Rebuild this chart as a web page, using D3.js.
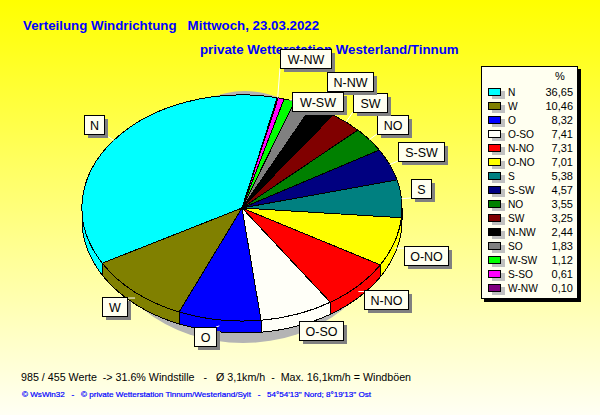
<!DOCTYPE html>
<html>
<head>
<meta charset="utf-8">
<script src="https://cdn.jsdelivr.net/npm/d3@7"></script>
<style>
html, body { margin: 0; padding: 0; background: #fff; }
svg { display: block; }
text { font-family: "Liberation Sans", Arial, sans-serif; }
</style>
</head>
<body>
<div id="chart"></div>
<script>
const directions = ["N", "W", "O", "O-SO", "N-NO", "O-NO", "S", "S-SW", "NO", "SW", "N-NW", "SO", "W-SW", "S-SO", "W-NW"];
const percents = [36.65, 10.46, 8.32, 7.41, 7.31, 7.01, 5.38, 4.57, 3.55, 3.25, 2.44, 1.83, 1.12, 0.61, 0.10];
const percentLabels = ["36,65", "10,46", "8,32", "7,41", "7,31", "7,01", "5,38", "4,57", "3,55", "3,25", "2,44", "1,83", "1,12", "0,61", "0,10"];
const sliceColors = ["#00ffff", "#808000", "#0000ff", "#fffff8", "#ff0000", "#ffff00", "#008080", "#000080", "#008000", "#800000", "#000000", "#808080", "#00ff00", "#ff00ff", "#800080"];

// label boxes [x, y, w], same order as directions
const labelBoxes = [[84, 115, 20], [102, 297, 25], [194, 327, 22], [299, 321, 44], [364, 290, 44], [404, 246, 44], [411, 179, 20], [398, 142, 46], [377, 115, 31], [353, 93, 34], [327, 72, 46], [0, 0, 0], [292, 92, 51], [0, 0, 0], [280, 49, 51]];

const width = 600, height = 415;
const cx = 242, cy = 208, rx = 160, ry = 113, depth = 12;
const startDeg = 12.7;
const boxFill = "#fffff0";

const svg = d3.select("#chart").append("svg")
    .attr("width", width)
    .attr("height", height);

// background
const grad = svg.append("defs").append("linearGradient")
    .attr("id", "bg").attr("x1", 0).attr("y1", 0).attr("x2", 0).attr("y2", 1);
grad.append("stop").attr("offset", "0%").attr("stop-color", "#ffff00");
grad.append("stop").attr("offset", "100%").attr("stop-color", "#fffff4");
svg.append("rect").attr("width", width).attr("height", height).attr("fill", "url(#bg)");

// titles
svg.append("text").attr("x", 23).attr("y", 30)
    .attr("font-size", 13.3).attr("font-weight", "bold").attr("fill", "#0000ff")
    .style("white-space", "pre")
    .text("Verteilung Windrichtung   Mittwoch, 23.03.2022");
svg.append("text").attr("x", 200).attr("y", 54)
    .attr("font-size", 13.3).attr("font-weight", "bold").attr("fill", "#0000ff")
    .text("private Wetterstation Westerland/Tinnum");

// footer
svg.append("text").attr("x", 21).attr("y", 381)
    .attr("font-size", 10.7).attr("fill", "#000")
    .style("white-space", "pre")
    .text("985 / 455 Werte  -> 31.6% Windstille   -   Ø 3,1km/h  -  Max. 16,1km/h = Windböen");
svg.append("text").attr("x", 22).attr("y", 397)
    .attr("font-size", 8.1).attr("fill", "#0000ff")
    .attr("stroke", "#0000ff").attr("stroke-width", 0.2)
    .style("white-space", "pre")
    .text("© WsWin32   -   © private Wetterstation Tinnum/Westerland/Sylt   -   54°54'13\" Nord; 8°19'13\" Ost");

// pie layout, runs counterclockwise from startDeg
const toRad = Math.PI / 180;
const pie = d3.pie().sort(null).value(d => d)
    .startAngle(startDeg * toRad)
    .endAngle((startDeg - 360) * toRad);
const slices = pie(percents);
const arc = d3.arc().innerRadius(0).outerRadius(1);
const px = a => Math.sin(a) * rx;
const py = a => -Math.cos(a) * ry;

const plot = svg.append("g").attr("transform", `translate(${cx},${cy})`);

// shadow peeks out below and above the pie
plot.append("ellipse")
    .attr("cx", 1).attr("cy", 22)
    .attr("rx", 140).attr("ry", ry)
    .attr("fill", "#b4b4b4");
plot.append("ellipse")
    .attr("cx", 3).attr("cy", -4)
    .attr("rx", 100).attr("ry", ry)
    .attr("fill", "#b4b4b4");

// side walls, only the front half of the ellipse shows
const wallLine = d3.line().x(d => d[0]).y(d => d[1]);
function wallPath(d) {
    let a0 = Math.min(d.startAngle, d.endAngle);
    let a1 = Math.max(d.startAngle, d.endAngle);
    a0 = Math.max(a0, -1.5 * Math.PI);
    a1 = Math.min(a1, -0.5 * Math.PI);
    if (a1 <= a0) return null;
    const steps = d3.range(0, 41).map(i => a0 + (a1 - a0) * i / 40);
    const top = steps.map(a => [px(a), py(a)]);
    const bottom = steps.slice().reverse().map(a => [px(a), py(a) + depth]);
    return wallLine(top.concat(bottom)) + "Z";
}
plot.append("g").selectAll("path")
    .data(slices)
    .join("path")
    .attr("d", wallPath)
    .attr("fill", (d, i) => sliceColors[i])
    .attr("stroke", "#000")
    .attr("stroke-width", 1)
    .attr("shape-rendering", "crispEdges");

// top face
plot.append("g").attr("transform", `scale(${rx},${ry})`)
    .selectAll("path")
    .data(slices)
    .join("path")
    .attr("d", arc)
    .attr("fill", (d, i) => sliceColors[i])
    .attr("stroke", "#000")
    .attr("stroke-width", 1)
    .attr("vector-effect", "non-scaling-stroke")
    .attr("shape-rendering", "crispEdges");

// labels with white leader lines
const labelled = slices.map((d, i) => ({ d, i, box: labelBoxes[i] })).filter(l => l.box[2] > 0);
const boxH = 19;

labelled.forEach(l => {
    const mid = (l.d.startAngle + l.d.endAngle) / 2;
    const frontWall = Math.cos(mid) < 0 ? depth / 2 : 0;
    const x0 = cx + px(mid), y0 = cy + py(mid) + frontWall;
    const tx = Math.max(l.box[0], Math.min(l.box[0] + l.box[2], x0));
    const ty = Math.max(l.box[1], Math.min(l.box[1] + boxH, y0));
    svg.append("line")
        .attr("x1", x0).attr("y1", y0).attr("x2", tx).attr("y2", ty)
        .attr("stroke", "#fff").attr("stroke-width", 1);
});

const labelG = svg.append("g").selectAll("g")
    .data(labelled)
    .join("g")
    .attr("transform", l => `translate(${l.box[0]},${l.box[1]})`);
labelG.append("rect")
    .attr("x", 4).attr("y", 4)
    .attr("width", l => l.box[2]).attr("height", boxH)
    .attr("fill", "#808080")
    .attr("shape-rendering", "crispEdges");
labelG.append("rect")
    .attr("x", 0.5).attr("y", 0.5)
    .attr("width", l => l.box[2]).attr("height", boxH)
    .attr("fill", boxFill).attr("stroke", "#000")
    .attr("shape-rendering", "crispEdges");
labelG.append("text")
    .attr("x", l => l.box[2] / 2 + 0.5).attr("y", 15)
    .attr("text-anchor", "middle")
    .attr("font-size", 12.5).attr("fill", "#000")
    .text(l => directions[l.i]);

// legend
const legendY = d3.scaleBand().domain(directions).range([85, 295]);
const legend = svg.append("g");
legend.append("rect").attr("x", 484).attr("y", 69).attr("width", 97).attr("height", 233).attr("fill", "#000");
legend.append("rect").attr("x", 481.5).attr("y", 66.5).attr("width", 96).attr("height", 232)
    .attr("fill", boxFill).attr("stroke", "#000")
    .attr("shape-rendering", "crispEdges");
legend.append("text").attr("x", 560).attr("y", 80).attr("text-anchor", "middle")
    .attr("font-size", 11).attr("fill", "#000").text("%");

const rows = legend.selectAll("g.row")
    .data(directions)
    .join("g")
    .attr("class", "row")
    .attr("transform", d => `translate(0,${legendY(d)})`);
rows.append("rect").attr("x", 492).attr("y", 6).attr("width", 13).attr("height", 8).attr("fill", "#c0c0c0");
rows.append("rect").attr("x", 488.5).attr("y", 3.5).attr("width", 12).attr("height", 7)
    .attr("fill", (d, i) => sliceColors[i]).attr("stroke", "#000")
    .attr("shape-rendering", "crispEdges");
rows.append("text").attr("x", 508).attr("y", 11)
    .attr("font-size", 10.2).attr("fill", "#000").text(d => d);
rows.append("text").attr("x", 573).attr("y", 11)
    .attr("text-anchor", "end")
    .attr("font-size", 11).attr("fill", "#000").text((d, i) => percentLabels[i]);
</script>
</body>
</html>
